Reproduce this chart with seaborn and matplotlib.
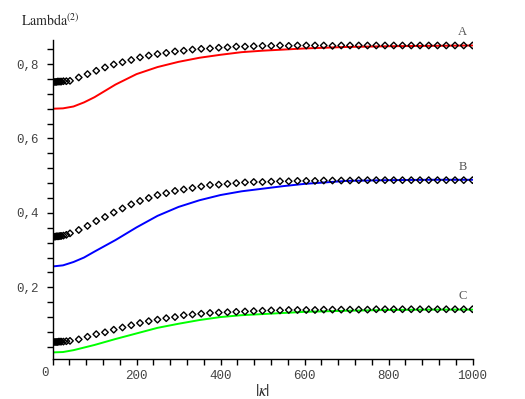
import matplotlib
matplotlib.use("Agg")
import matplotlib.pyplot as plt
import matplotlib.transforms as mtransforms
import numpy as np
import pandas as pd
import seaborn as sns

# solid curves: |kappa| sample points and Lambda^(2) values
LINE_X = [0, 25, 50, 75, 100, 150, 200, 250, 300, 350, 400, 450, 500, 550, 600, 700, 800, 900, 1000]
LINE_A = [0.680, 0.681, 0.686, 0.697, 0.711, 0.745, 0.773, 0.792, 0.806, 0.817, 0.825, 0.832, 0.836,
          0.839, 0.842, 0.846, 0.848, 0.849, 0.850]
LINE_B = [0.256, 0.259, 0.268, 0.280, 0.296, 0.327, 0.361, 0.392, 0.416, 0.434, 0.448, 0.458, 0.465,
          0.472, 0.478, 0.486, 0.488, 0.489, 0.489]
LINE_C = [0.025, 0.026, 0.031, 0.038, 0.045, 0.061, 0.076, 0.091, 0.102, 0.112, 0.120, 0.125, 0.128,
          0.131, 0.134, 0.137, 0.139, 0.140, 0.140]

# diamonds: dense points near zero, then 49 evenly spaced samples up to 1000
DENSE_X = [3, 6, 9, 12, 15, 18, 26, 33]
DENSE_A = [0.752, 0.752, 0.752, 0.753, 0.753, 0.753, 0.754, 0.754]
DENSE_B = [0.336, 0.336, 0.337, 0.337, 0.337, 0.338, 0.339, 0.341]
DENSE_C = [0.053, 0.053, 0.053, 0.053, 0.054, 0.054, 0.054, 0.055]

GRID_X = np.linspace(0, 1000, 49)
DIAM_A = [0.752, 0.753, 0.755, 0.764, 0.773, 0.782, 0.791, 0.799, 0.805, 0.811, 0.818, 0.823, 0.827,
          0.830, 0.834, 0.836, 0.839, 0.841, 0.842, 0.844, 0.845, 0.847, 0.847, 0.848, 0.849, 0.849,
          0.850, 0.849, 0.850, 0.850, 0.850, 0.850, 0.849, 0.850, 0.850, 0.850, 0.850, 0.850, 0.850,
          0.850, 0.850, 0.850, 0.850, 0.850, 0.850, 0.850, 0.850, 0.850, 0.850]
DIAM_B = [0.336, 0.338, 0.345, 0.354, 0.365, 0.378, 0.389, 0.401, 0.412, 0.423, 0.432, 0.440, 0.448,
          0.453, 0.459, 0.463, 0.467, 0.471, 0.475, 0.476, 0.478, 0.480, 0.482, 0.483, 0.483, 0.484,
          0.485, 0.485, 0.486, 0.486, 0.486, 0.487, 0.487, 0.487, 0.487, 0.488, 0.488, 0.488, 0.488,
          0.488, 0.488, 0.488, 0.488, 0.488, 0.488, 0.488, 0.488, 0.488, 0.488]
DIAM_C = [0.053, 0.054, 0.056, 0.060, 0.067, 0.074, 0.079, 0.086, 0.092, 0.098, 0.104, 0.109, 0.113,
          0.117, 0.120, 0.125, 0.127, 0.129, 0.131, 0.132, 0.133, 0.134, 0.135, 0.136, 0.137, 0.138,
          0.138, 0.139, 0.139, 0.139, 0.139, 0.140, 0.140, 0.140, 0.140, 0.140, 0.140, 0.141, 0.141,
          0.141, 0.141, 0.141, 0.141, 0.141, 0.141, 0.141, 0.141, 0.141, 0.141]

CURVE_NAMES = ["A", "B", "C"]
CURVE_COLORS = {"A": "#ff0000", "B": "#0000ff", "C": "#00ff00"}

sns.set_style("ticks")
plt.rcParams["mathtext.fontset"] = "stix"

lines = pd.concat(
    [pd.DataFrame({"kappa": LINE_X, "lam": vals, "curve": name})
     for name, vals in zip(CURVE_NAMES, [LINE_A, LINE_B, LINE_C])],
    ignore_index=True,
)
diamonds = pd.concat(
    [pd.DataFrame({"kappa": list(GRID_X) + DENSE_X, "lam": grid + dense, "curve": name})
     for name, grid, dense in zip(CURVE_NAMES, [DIAM_A, DIAM_B, DIAM_C], [DENSE_A, DENSE_B, DENSE_C])],
    ignore_index=True,
)

fig = plt.figure(figsize=(5.25, 3.99), dpi=100)
ax = fig.add_axes([0.1, 0.1, 0.8, 0.8])

sns.lineplot(data=lines, x="kappa", y="lam", hue="curve", palette=CURVE_COLORS,
             linewidth=1.4, legend=False, ax=ax, zorder=2)
sns.scatterplot(data=diamonds, x="kappa", y="lam", marker="D", s=11, color="black",
                edgecolor="black", linewidth=1.0, legend=False, ax=ax, zorder=3)
ax.collections[-1].set_facecolor("none")

for name, vals in zip(CURVE_NAMES, [DIAM_A, DIAM_B, DIAM_C]):
    ax.text(976, vals[-1] + 0.035, name, family="Liberation Serif", fontsize=9,
            color="#555555", ha="center", va="center", clip_on=False)

ax.set_xlim(0, 1000)
ax.set_ylim(0.007, 0.865)
ax.set_xticks([0, 200, 400, 600, 800, 1000])
ax.set_xticks(np.arange(0, 1001, 40), minor=True)
ax.set_yticks([0.2, 0.4, 0.6, 0.8])
ax.set_yticks(np.arange(0.04, 0.86, 0.04), minor=True)
ax.set_yticklabels(["0,2", "0,4", "0,6", "0,8"])
ax.tick_params(which="both", direction="out", length=4, width=1.0, color="black",
               labelsize=9, labelcolor="#444444")
ax.tick_params(axis="y", pad=6)
for lab in ax.get_xticklabels() + ax.get_yticklabels():
    lab.set_family("Liberation Mono")

# origin label sits a little left and up, as in the original
zero = ax.get_xticklabels()[0]
zero.set_transform(zero.get_transform() + mtransforms.ScaledTranslation(-8 / 100, 3 / 100, fig.dpi_scale_trans))

sns.despine(ax=ax)
for side in ["left", "bottom"]:
    ax.spines[side].set_linewidth(1.0)
    ax.spines[side].set_color("black")

ax.set_xlabel(r"$|\kappa|$", fontsize=12, labelpad=0)
ax.set_ylabel("")
fig.text(0.04, 0.935, r"$\mathrm{Lambda}^{(2)}$", fontsize=10, ha="left", va="baseline")

fig.savefig("out.png", dpi=100)
